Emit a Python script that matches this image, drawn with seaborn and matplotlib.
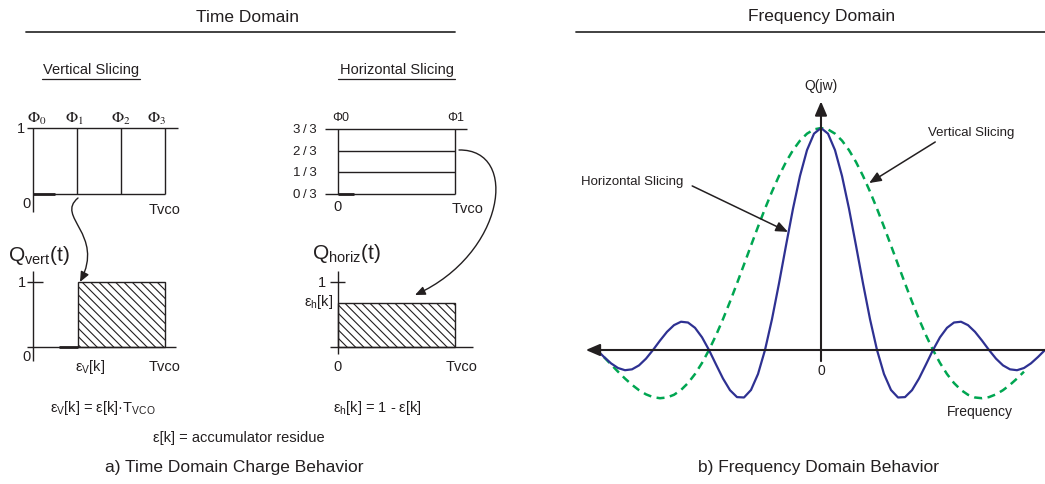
import numpy as np
import pandas as pd
import matplotlib
matplotlib.use("Agg")
import matplotlib.pyplot as plt
import seaborn as sns
from matplotlib.patches import FancyArrowPatch, Rectangle
from matplotlib.path import Path

# ---------------- data ----------------
phase_labels = [r"$\Phi_0$", r"$\Phi_1$", r"$\Phi_2$", r"$\Phi_3$"]
phase_times = [0.0, 1 / 3, 2 / 3, 1.0]          # fraction of Tvco
level_labels = ["0\u2009/\u20093", "1\u2009/\u20093", "2\u2009/\u20093", "3\u2009/\u20093"]
level_values = [0.0, 1 / 3, 2 / 3, 1.0]
eps_v = 0.34       # eps_v[k] as fraction of Tvco
eps_h = 0.68       # eps_h[k] level

# frequency axis (units: zero-crossing spacing of horizontal slicing response)
freq_h = [-4.0, -3.875, -3.75, -3.625, -3.5, -3.375, -3.25, -3.125, -3.0,
          -2.875, -2.75, -2.625, -2.5, -2.375, -2.25, -2.125, -2.0,
          -1.875, -1.75, -1.625, -1.5, -1.375, -1.25, -1.125, -1.0,
          -0.875, -0.75, -0.625, -0.5, -0.375, -0.25, -0.125, 0.0,
          0.125, 0.25, 0.375, 0.5, 0.625, 0.75, 0.875, 1.0,
          1.125, 1.25, 1.375, 1.5, 1.625, 1.75, 1.875, 2.0,
          2.125, 2.25, 2.375, 2.5, 2.625, 2.75, 2.875, 3.0,
          3.125, 3.25, 3.375, 3.5, 3.625, 3.75, 3.875, 4.0]
resp_h = [0.0, -0.0314, -0.0600, -0.0811, -0.0910, -0.0871, -0.0693, -0.0390, 0.0,
          0.0424, 0.0819, 0.1120, 0.1273, 0.1238, 0.1000, 0.0573, 0.0,
          -0.0650, -0.1286, -0.1810, -0.2122, -0.2139, -0.1801, -0.1083, 0.0,
          0.1392, 0.3001, 0.4705, 0.6366, 0.7842, 0.9003, 0.9745, 1.0,
          0.9745, 0.9003, 0.7842, 0.6366, 0.4705, 0.3001, 0.1392, 0.0,
          -0.1083, -0.1801, -0.2139, -0.2122, -0.1810, -0.1286, -0.0650, 0.0,
          0.0573, 0.1000, 0.1238, 0.1273, 0.1120, 0.0819, 0.0424, 0.0,
          -0.0390, -0.0693, -0.0871, -0.0910, -0.0811, -0.0600, -0.0314, 0.0]

freq_v = [-3.875, -3.75, -3.625, -3.5, -3.375, -3.25, -3.125, -3.0,
          -2.875, -2.75, -2.625, -2.5, -2.375, -2.25, -2.125, -2.0,
          -1.875, -1.75, -1.625, -1.5, -1.375, -1.25, -1.125, -1.0,
          -0.875, -0.75, -0.625, -0.5, -0.375, -0.25, -0.125, 0.0,
          0.125, 0.25, 0.375, 0.5, 0.625, 0.75, 0.875, 1.0,
          1.125, 1.25, 1.375, 1.5, 1.625, 1.75, 1.875, 2.0,
          2.125, 2.25, 2.375, 2.5, 2.625, 2.75, 2.875, 3.0,
          3.125, 3.25, 3.375, 3.5, 3.625]
resp_v = [-0.0321, -0.0650, -0.0976, -0.1286, -0.1568, -0.1810, -0.1998, -0.2122,
          -0.2172, -0.2139, -0.2017, -0.1801, -0.1489, -0.1083, -0.0585, 0.0,
          0.0662, 0.1392, 0.2177, 0.3001, 0.3850, 0.4705, 0.5550, 0.6366,
          0.7136, 0.7842, 0.8469, 0.9003, 0.9432, 0.9745, 0.9936, 1.0,
          0.9936, 0.9745, 0.9432, 0.9003, 0.8469, 0.7842, 0.7136, 0.6366,
          0.5550, 0.4705, 0.3850, 0.3001, 0.2177, 0.1392, 0.0662, 0.0,
          -0.0585, -0.1083, -0.1489, -0.1801, -0.2017, -0.2139, -0.2172, -0.2122,
          -0.1998, -0.1810, -0.1568, -0.1286, -0.0976]

# ---------------- style ----------------
sns.set_theme(style="white")
plt.rcParams["font.family"] = ["Liberation Sans", "DejaVu Sans"]
plt.rcParams["mathtext.fontset"] = "custom"
plt.rcParams["mathtext.rm"] = "Liberation Sans"
plt.rcParams["mathtext.it"] = "Liberation Sans:italic"
plt.rcParams["mathtext.bf"] = "Liberation Sans:bold"
plt.rcParams["hatch.linewidth"] = 0.8
plt.rcParams["hatch.color"] = "#231f20"

INK = "#231f20"
TXT = "#231f20"
BLUE = "#2e3192"
GREEN = "#00a651"
LW = 1.0

W, H = 1045, 485
fig = plt.figure(figsize=(W / 100, H / 100), dpi=100)
fig.patch.set_facecolor("white")

overlay = fig.add_axes([0, 0, 1, 1])
overlay.set_xlim(0, W)
overlay.set_ylim(H, 0)
overlay.set_axis_off()


def sub_axes(x0, x1, y_top, y_bot, xlim=(0, 1), ylim=(0, 1)):
    ax = fig.add_axes([x0 / W, 1 - y_bot / H, (x1 - x0) / W, (y_bot - y_top) / H])
    ax.set_xlim(*xlim)
    ax.set_ylim(*ylim)
    ax.set_axis_off()
    ax.patch.set_alpha(0)
    return ax


def seg(ax, xs, ys, lw=LW, color=INK):
    ax.plot(xs, ys, color=color, lw=lw, clip_on=False, solid_capstyle="butt")


HATCH = "\\\\\\\\"

# ---------------- headers / captions ----------------
overlay.text(247, 17, "Time Domain", ha="center", va="center", fontsize=12.5, color=TXT)
overlay.plot([26, 455], [33, 33], color="#333333", lw=1.3)
overlay.text(822, 17, "Frequency Domain", ha="center", va="center", fontsize=12.5, color=TXT)
overlay.plot([576, 1045], [33, 33], color="#333333", lw=1.3)

overlay.text(234, 468, "a) Time Domain Charge Behavior", ha="center", va="center", fontsize=12.5, color=TXT)
overlay.text(819, 468, "b) Frequency Domain Behavior", ha="center", va="center", fontsize=12.5, color=TXT)

overlay.text(91, 70, "Vertical Slicing", ha="center", va="center", fontsize=10.5, color=TXT)
overlay.plot([42, 140], [80, 80], color=INK, lw=0.9)
overlay.text(397, 70, "Horizontal Slicing", ha="center", va="center", fontsize=10.5, color=TXT)
overlay.plot([338, 455], [80, 80], color=INK, lw=0.9)

overlay.text(239, 438, "ε[k] = accumulator residue", ha="center", va="center", fontsize=10.5, color=TXT)

# ---------------- vertical slicing diagram ----------------
av = sub_axes(33, 165, 129, 195)
seg(av, [-0.045, 1.1], [1, 1])
seg(av, [0, 1], [0, 0])
seg(av, [0, 0.17], [0, 0], lw=2.0)
for t, lab in zip(phase_times, phase_labels):
    y0 = -0.27 if t == 0 else 0
    seg(av, [t, t], [y0, 1])
phase_dx = [0.03, -0.02, 0.0, -0.06]
for t, lab, dx in zip(phase_times, phase_labels, phase_dx):
    av.text(t + dx, 1.15, lab, ha="center", va="center", fontsize=11.5,
            math_fontfamily="stix", color=TXT)
av.text(-0.06, 1.0, "1", ha="right", va="center", fontsize=10.5, color=TXT)
av.text(-0.05, -0.13, "0", ha="center", va="center", fontsize=10.5, color=TXT)
av.text(1.0, -0.22, "Tvco", ha="center", va="center", fontsize=10.5, color=TXT)

# ---------------- Q_vert diagram ----------------
aqv = sub_axes(33, 165, 283, 348)
seg(aqv, [0, 0], [-0.215, 1.17])
seg(aqv, [-0.045, 1.08], [0, 0])
seg(aqv, [0.2, eps_v], [0, 0], lw=2.0)
seg(aqv, [-0.045, 0.075], [1, 1])
aqv.add_patch(Rectangle((eps_v, 0), 1 - eps_v, 1, facecolor="none", edgecolor=INK,
                        lw=LW, hatch=HATCH, clip_on=False))
aqv.text(-0.19, 1.43, r"Q$_{\mathrm{vert}}$(t)", ha="left", va="center", fontsize=15, color=TXT)
aqv.text(-0.055, 1.0, "1", ha="right", va="center", fontsize=10.5, color=TXT)
aqv.text(-0.05, -0.14, "0", ha="center", va="center", fontsize=10.5, color=TXT)
aqv.text(eps_v + 0.09, -0.29, r"ε$_{\mathrm{V}}$[k]", ha="center", va="center", fontsize=10.5, color=TXT)
aqv.text(1.0, -0.29, "Tvco", ha="center", va="center", fontsize=10.5, color=TXT)
aqv.text(0.53, -0.92, r"ε$_{\mathrm{V}}$[k] = ε[k]·T$_{\mathrm{VCO}}$", ha="center", va="center",
         fontsize=10.5, color=TXT)

# ---------------- horizontal slicing diagram ----------------
ah = sub_axes(338, 455, 130, 195)
seg(ah, [-0.11, 1.1], [1, 1])
seg(ah, [-0.11, 1.0], [0, 0])
seg(ah, [0, 0.14], [0, 0], lw=2.0)
for v in level_values[1:3]:
    seg(ah, [0, 1], [v, v])
seg(ah, [0, 0], [0, 1])
seg(ah, [1, 1], [0, 1])
for v, lab in zip(level_values, level_labels):
    ah.text(-0.18, v, lab, ha="right", va="center", fontsize=9.5, color=TXT)
ah.text(0.02, 1.18, "Φ0", ha="center", va="center", fontsize=9, color=TXT)
ah.text(1.01, 1.18, "Φ1", ha="center", va="center", fontsize=9, color=TXT)
ah.text(0.0, -0.19, "0", ha="center", va="center", fontsize=10.5, color=TXT)
ah.text(1.11, -0.22, "Tvco", ha="center", va="center", fontsize=10.5, color=TXT)

# ---------------- Q_horiz diagram ----------------
aqh = sub_axes(338, 455, 283, 348)
seg(aqh, [0, 0], [-0.11, 1.17])
seg(aqh, [-0.07, 1.15], [0, 0])
seg(aqh, [-0.07, 0.06], [1, 1])
aqh.add_patch(Rectangle((0, 0), 1, eps_h, facecolor="none", edgecolor=INK,
                        lw=LW, hatch=HATCH, clip_on=False))
aqh.text(-0.22, 1.46, r"Q$_{\mathrm{horiz}}$(t)", ha="left", va="center", fontsize=15, color=TXT)
aqh.text(-0.1, 1.0, "1", ha="right", va="center", fontsize=10.5, color=TXT)
aqh.text(-0.04, eps_h + 0.03, r"ε$_{\mathrm{h}}$[k]", ha="right", va="center", fontsize=10.5, color=TXT)
aqh.text(0.0, -0.29, "0", ha="center", va="center", fontsize=10.5, color=TXT)
aqh.text(1.06, -0.29, "Tvco", ha="center", va="center", fontsize=10.5, color=TXT)
aqh.text(0.34, -0.92, r"ε$_{\mathrm{h}}$[k] = 1 - ε[k]", ha="center", va="center",
         fontsize=10.5, color=TXT)

# ---------------- curved arrows (time domain) ----------------
def bez_arrow(p0, p1, p2, p3):
    path = Path([p0, p1, p2, p3], [Path.MOVETO, Path.CURVE4, Path.CURVE4, Path.CURVE4])
    arr = FancyArrowPatch(path=path, arrowstyle="-|>,head_length=6,head_width=2.6",
                          color=INK, lw=1.0, mutation_scale=1)
    overlay.add_patch(arr)

bez_arrow((78, 199), (55, 218), (105, 235), (80, 283))
bez_arrow((459, 151), (520, 150), (505, 255), (415, 296))

# ---------------- frequency domain ----------------
af = sub_axes(597, 1045, 129, 351, xlim=(-4, 4), ylim=(0, 1))
df_h = pd.DataFrame({"freq": freq_h, "resp": resp_h})
df_v = pd.DataFrame({"freq": freq_v, "resp": resp_v})
sns.lineplot(data=df_v, x="freq", y="resp", ax=af, color=GREEN, lw=1.8, clip_on=False)
af.lines[-1].set_dashes([3.2, 2.2])
sns.lineplot(data=df_h, x="freq", y="resp", ax=af, color=BLUE, lw=1.6, clip_on=False)
af.set_xlim(-4, 4)
af.set_ylim(0, 1)
af.set_axis_off()

af.annotate("", xy=(-4.2, 0), xytext=(4.0, 0),
            arrowprops=dict(arrowstyle="-|>,head_length=0.7,head_width=0.3", color=INK,
                            lw=1.5, shrinkA=0, shrinkB=0), annotation_clip=False)
af.annotate("", xy=(0, 1.12), xytext=(0, -0.05),
            arrowprops=dict(arrowstyle="-|>,head_length=0.7,head_width=0.3", color=INK,
                            lw=1.5, shrinkA=0, shrinkB=0), annotation_clip=False)
af.text(0, 1.195, "Q(jw)", ha="center", va="center", fontsize=10, color=TXT)
af.text(0, -0.09, "0", ha="center", va="center", fontsize=10, color=TXT)
af.text(2.84, -0.275, "Frequency", ha="center", va="center", fontsize=10, color=TXT)
af.text(2.68, 0.98, "Vertical Slicing", ha="center", va="center", fontsize=9.5, color=TXT)
af.text(-3.37, 0.76, "Horizontal Slicing", ha="center", va="center", fontsize=9.5, color=TXT)
af.annotate("", xy=(0.86, 0.752), xytext=(2.04, 0.937),
            arrowprops=dict(arrowstyle="-|>,head_length=0.6,head_width=0.25", color=INK,
                            lw=1.1, shrinkA=0, shrinkB=0), annotation_clip=False)
af.annotate("", xy=(-0.59, 0.532), xytext=(-2.30, 0.739),
            arrowprops=dict(arrowstyle="-|>,head_length=0.6,head_width=0.25", color=INK,
                            lw=1.1, shrinkA=0, shrinkB=0), annotation_clip=False)

fig.savefig("out.png", dpi=100, facecolor="white")
